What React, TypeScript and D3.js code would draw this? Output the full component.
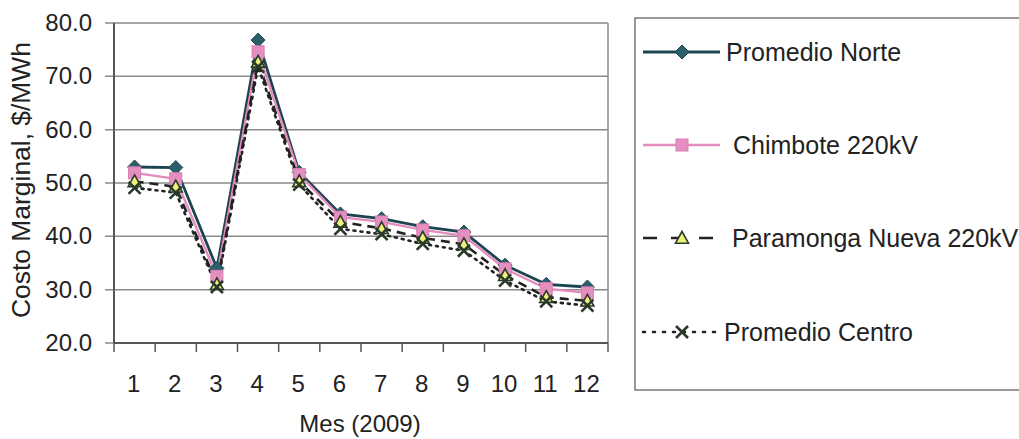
import React from "react";
import * as d3 from "d3";

// months and series
const months = ["1", "2", "3", "4", "5", "6", "7", "8", "9", "10", "11", "12"];
const yTicks = [20, 30, 40, 50, 60, 70, 80];

const promedioNorte = [53.0, 52.9, 34.0, 76.8, 52.0, 44.2, 43.3, 41.8, 40.8, 34.6, 31.0, 30.5];
const chimbote = [51.9, 50.8, 32.5, 74.6, 51.6, 43.6, 42.7, 41.2, 40.1, 33.9, 30.2, 29.4];
const paramonga = [50.3, 49.3, 31.0, 72.7, 50.3, 42.7, 41.5, 39.7, 38.5, 32.7, 28.6, 27.9];
const promedioCentro = [49.1, 48.2, 30.5, 71.8, 49.7, 41.4, 40.4, 38.6, 37.3, 31.7, 27.8, 27.0];

const seriesNames = ["Promedio Norte", "Chimbote 220kV", "Paramonga Nueva 220kV", "Promedio Centro"];

const W = 1019;
const H = 439;
const left = 114, right = 608, top = 23, bottom = 343;
const font = "'Liberation Sans', Arial, sans-serif";

type Style = {
  color: string;
  width: number;
  dash?: string;
  marker: "diamond" | "square" | "triangle" | "x";
};

const styles: Style[] = [
  { color: "#1d4550", width: 2.8, marker: "diamond" },
  { color: "#e58bbd", width: 2.4, marker: "square" },
  { color: "#222", width: 2.6, dash: "9,6", marker: "triangle" },
  { color: "#222", width: 2.6, dash: "2,5", marker: "x" },
];

const Marker = ({ kind, x, y }: { kind: Style["marker"]; x: number; y: number }) => {
  if (kind === "diamond") {
    const s = 7;
    return (
      <path
        d={`M${x},${y - s}L${x + s},${y}L${x},${y + s}L${x - s},${y}Z`}
        fill="#2b5f69"
        stroke="#1d4550"
        strokeWidth={1}
      />
    );
  }
  if (kind === "square") {
    const s = 6;
    return <rect x={x - s} y={y - s} width={2 * s} height={2 * s} fill="#e48fc0" stroke="#d97fb3" strokeWidth={1} />;
  }
  if (kind === "triangle") {
    const s = 6.5;
    return (
      <path
        d={`M${x},${y - s}L${x + s},${y + s * 0.8}L${x - s},${y + s * 0.8}Z`}
        fill="#eef27a"
        stroke="#2a3a2a"
        strokeWidth={1.6}
      />
    );
  }
  const s = 6;
  return (
    <path
      d={`M${x - s},${y - s}L${x + s},${y + s}M${x + s},${y - s}L${x - s},${y + s}`}
      stroke="#2a3a2a"
      strokeWidth={2.6}
    />
  );
};

const App = () => {
  const x = d3.scaleBand<string>().domain(months).range([left, right]);
  const y = d3.scaleLinear().domain([20, 80]).range([bottom, top]);
  const cx = (m: string) => (x(m) as number) + x.bandwidth() / 2;

  const allSeries = [promedioNorte, chimbote, paramonga, promedioCentro];
  const line = d3
    .line<number>()
    .x((_, i) => cx(months[i]))
    .y((d) => y(d));

  const bounds = months.map((m) => x(m) as number).concat([right]);

  const legendY = [52, 145, 238, 332];
  const legendTextX = [726, 733, 732, 724];

  return (
    <svg width={W} height={H} style={{ position: "absolute", left: 0, top: 0, background: "#fff" }} fontFamily={font}>
      {/* grid */}
      {yTicks.map((t) => (
        <line key={t} x1={left - 9} x2={right} y1={y(t)} y2={y(t)} stroke="#8a8a8a" strokeWidth={1.5} />
      ))}
      <line x1={right} x2={right} y1={top} y2={bottom} stroke="#8a8a8a" strokeWidth={1.5} />
      {/* axes */}
      <line x1={left} x2={left} y1={top} y2={bottom} stroke="#555" strokeWidth={2} />
      <line x1={left} x2={right} y1={bottom} y2={bottom} stroke="#555" strokeWidth={2} />
      {bounds.map((b, i) => (
        <line key={i} x1={b} x2={b} y1={bottom} y2={bottom + 9} stroke="#555" strokeWidth={1.5} />
      ))}
      {yTicks.map((t) => (
        <text key={t} x={92} y={y(t) + 8} textAnchor="end" fontSize={24} fill="#222">
          {t.toFixed(1)}
        </text>
      ))}
      {months.map((m) => (
        <text key={m} x={cx(m) - 1} y={392} textAnchor="middle" fontSize={24} fill="#222">
          {m}
        </text>
      ))}
      <text x={360} y={432} textAnchor="middle" fontSize={24} fill="#222">
        Mes (2009)
      </text>
      <text
        transform={`translate(30,180) rotate(-90)`}
        textAnchor="middle"
        fontSize={25}
        fill="#222"
        textLength={276}
        lengthAdjust="spacingAndGlyphs"
      >
        Costo Marginal, $/MWh
      </text>

      {/* series */}
      {allSeries.map((s, i) => (
        <path
          key={i}
          d={line(s) as string}
          fill="none"
          stroke={styles[i].color}
          strokeWidth={styles[i].width}
          strokeDasharray={styles[i].dash}
          strokeLinecap={i === 3 ? "round" : "butt"}
        />
      ))}
      {allSeries.map((s, i) =>
        s.map((v, j) => <Marker key={`${i}-${j}`} kind={styles[i].marker} x={cx(months[j])} y={y(v)} />)
      )}

      {/* legend */}
      <rect x={635} y={18} width={400} height={372} fill="none" stroke="#777" strokeWidth={1.5} />
      {seriesNames.map((n, i) => (
        <g key={n}>
          <line
            x1={643}
            x2={720}
            y1={legendY[i]}
            y2={legendY[i]}
            stroke={styles[i].color}
            strokeWidth={styles[i].width}
            strokeDasharray={i === 2 ? "14,14" : i === 3 ? "2,8" : undefined}
            strokeLinecap={i === 3 ? "round" : "butt"}
          />
          <Marker kind={styles[i].marker} x={682} y={legendY[i]} />
          <text x={legendTextX[i]} y={legendY[i] + 9} fontSize={25} fill="#222">
            {n}
          </text>
        </g>
      ))}
    </svg>
  );
};

export default App;
